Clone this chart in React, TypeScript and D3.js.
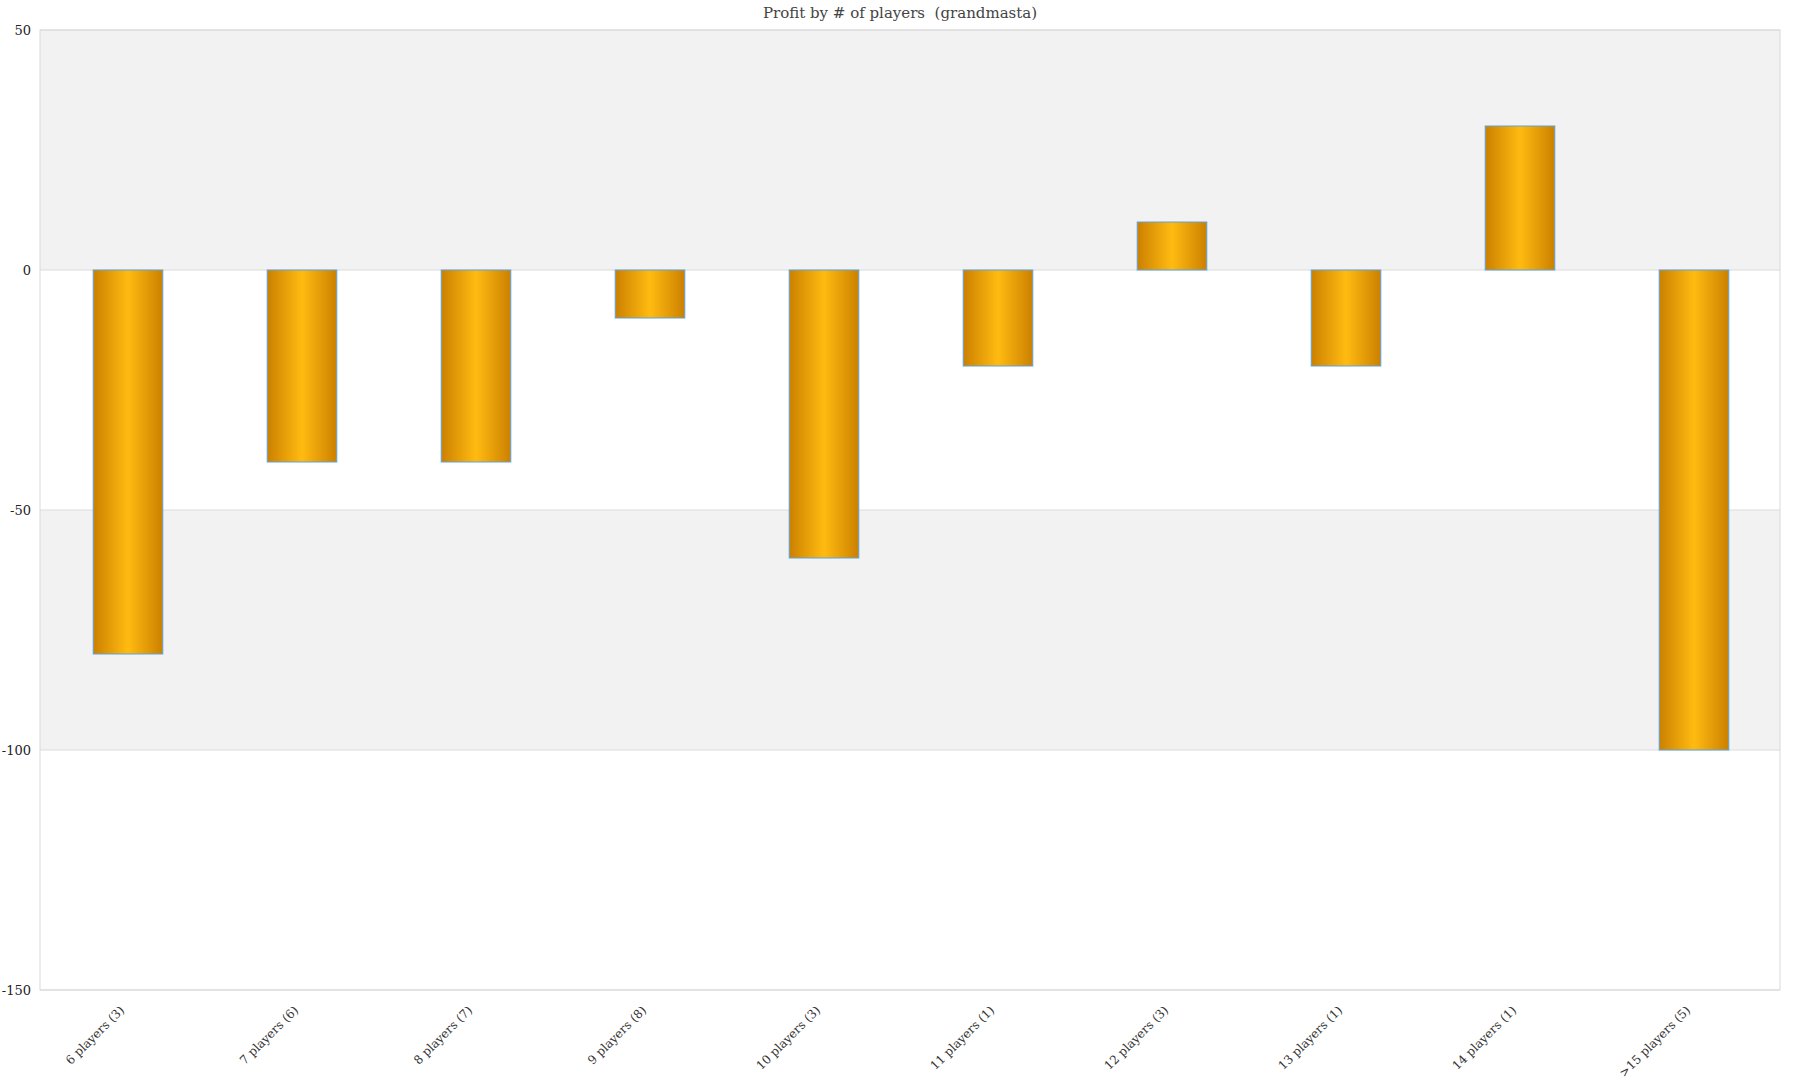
import React from "react";
import * as d3 from "d3";

const categories = [
  "6 players (3)",
  "7 players (6)",
  "8 players (7)",
  "9 players (8)",
  "10 players (3)",
  "11 players (1)",
  "12 players (3)",
  "13 players (1)",
  "14 players (1)",
  ">15 players (5)",
];
const profits = [-80, -40, -40, -10, -60, -20, 10, -20, 30, -100];
const yTicks = [50, 0, -50, -100, -150];
const title = "Profit by # of players  (grandmasta)";

const W = 1800;
const H = 1080;
const M = { left: 40, right: 20, top: 30, bottom: 90 };
const FONT = "Georgia, 'DejaVu Serif', 'Liberation Serif', serif";

export default function App() {
  const x = d3
    .scaleBand<string>()
    .domain(categories)
    .range([M.left + 1, W - M.right + 1])
    .paddingInner(0.6)
    .paddingOuter(0.3);
  const y = d3.scaleLinear().domain([-150, 50]).range([H - M.bottom, M.top]);

  const bands: [number, number][] = [];
  for (let i = 0; i < yTicks.length - 1; i++) bands.push([yTicks[i], yTicks[i + 1]]);

  return (
    <svg
      width={W}
      height={H}
      style={{ position: "absolute", left: 0, top: 0, background: "#fff" }}
    >
      <defs>
        <linearGradient id="barGrad" x1="0" x2="1" y1="0" y2="0">
          <stop offset="0%" stopColor="#cc8000" />
          <stop offset="50%" stopColor="#ffbb11" />
          <stop offset="100%" stopColor="#cc8000" />
        </linearGradient>
      </defs>
      {bands.map(([a, b], i) => (
        <rect
          key={"band" + i}
          x={M.left}
          y={y(a)}
          width={W - M.right - M.left}
          height={y(b) - y(a)}
          fill={i % 2 === 0 ? "#f2f2f2" : "#ffffff"}
        />
      ))}
      {yTicks.map((t) => (
        <line
          key={"g" + t}
          x1={M.left}
          x2={W - M.right}
          y1={y(t)}
          y2={y(t)}
          stroke="#dcdcdc"
          strokeWidth={1}
        />
      ))}
      <rect
        x={M.left}
        y={M.top}
        width={W - M.right - M.left}
        height={H - M.bottom - M.top}
        fill="none"
        stroke="#d9d9d9"
        strokeWidth={1}
      />
      {categories.map((c, i) => {
        const v = profits[i];
        const y0 = y(Math.max(0, v));
        const y1 = y(Math.min(0, v));
        return (
          <rect
            key={c}
            x={x(c)}
            y={y0}
            width={x.bandwidth()}
            height={y1 - y0}
            fill="url(#barGrad)"
            stroke="#5ea2e0"
            strokeWidth={1}
          />
        );
      })}
      {yTicks.map((t) => (
        <text
          key={"yl" + t}
          x={M.left - 9}
          y={y(t)}
          dy="0.35em"
          textAnchor="end"
          fontFamily={FONT}
          fontSize={13}
          fill="#222"
        >
          {t}
        </text>
      ))}
      {categories.map((c) => {
        const cx = (x(c) as number) + x.bandwidth() / 2;
        const ty = H - M.bottom + 18;
        return (
          <text
            key={"xl" + c}
            transform={`translate(${cx - 6},${ty}) rotate(-45)`}
            textAnchor="end"
            dy="0.35em"
            fontFamily={FONT}
            fontSize={12}
            fill="#333"
          >
            {c}
          </text>
        );
      })}
      <text
        x={W / 2}
        y={18}
        textAnchor="middle"
        fontFamily={FONT}
        fontSize={15}
        fill="#444"
        style={{ whiteSpace: "pre" }}
      >
        {title}
      </text>
    </svg>
  );
}
